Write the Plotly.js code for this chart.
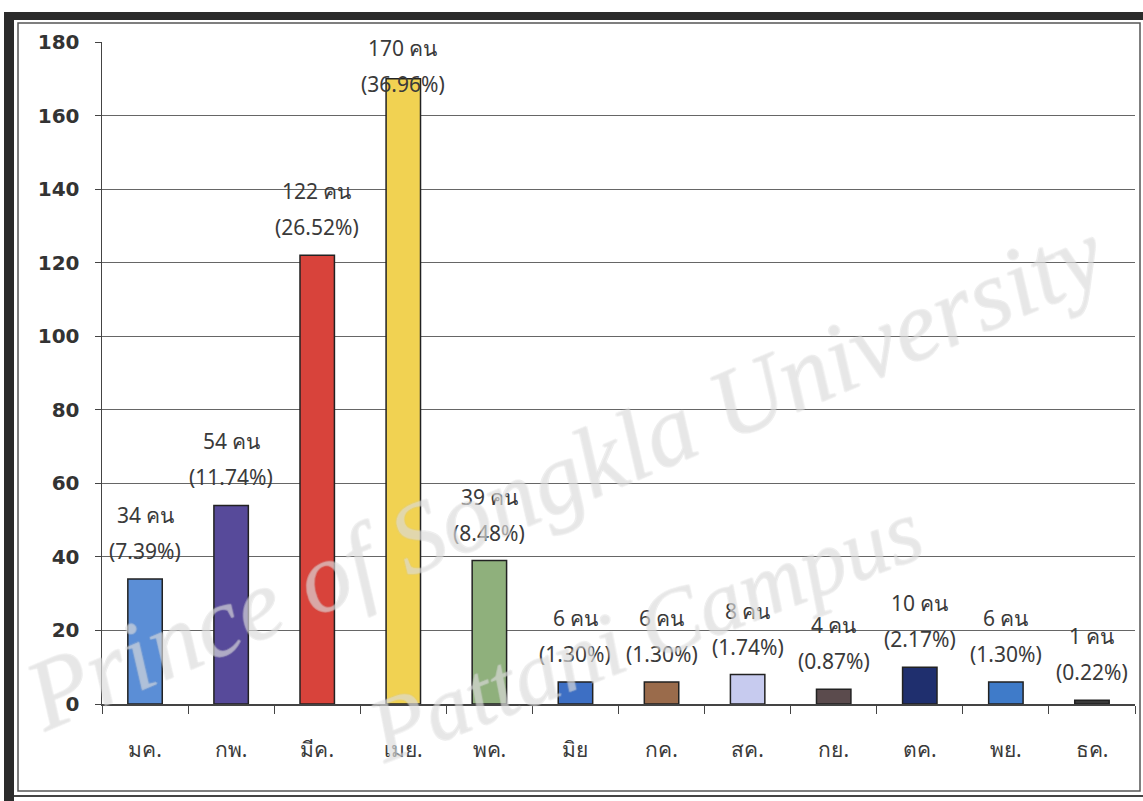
<!DOCTYPE html>
<html>
<head>
<meta charset="utf-8">
<script src="https://cdn.plot.ly/plotly-3.0.1.min.js"></script>
<style>
html,body{margin:0;padding:0;background:#fff;}
#chart{width:1143px;height:801px;}
</style>
</head>
<body>
<div id="chart"></div>
<script>
// ---- data ----
const months = ["มค.", "กพ.", "มีค.", "เมย.", "พค.", "มิย", "กค.", "สค.", "กย.", "ตค.", "พย.", "ธค."];
const counts = [34, 54, 122, 170, 39, 6, 6, 8, 4, 10, 6, 1];
const percents = ["7.39%", "11.74%", "26.52%", "36.96%", "8.48%", "1.30%", "1.30%", "1.74%", "0.87%", "2.17%", "1.30%", "0.22%"];
const barColors = ["#5b8ed6", "#574a9a", "#d8433b", "#f1d252", "#8fb07c", "#3d6fc4", "#9a6b4b", "#c7cbef", "#5b4b4d", "#1f2f6e", "#3f7bc9", "#3a3a3a"];
const yTicks = [0, 20, 40, 60, 80, 100, 120, 140, 160, 180];

// ---- layout helpers ----
const W = 1143, H = 801;
const M = {l: 102, r: 8, t: 42, b: 97};
const pw = W - M.l - M.r, ph = H - M.t - M.b;
const px = x => (x - M.l) / pw;
const py = y => (H - M.b - y) / ph;

const thaiFont = "Tahoma, 'Noto Sans', 'DejaVu Sans', sans-serif";
const labelCap = 161; // labels of bars reaching the top are kept inside the frame

const annotations = [];
months.forEach((m, i) => {
  const yv = Math.min(counts[i], labelCap);
  annotations.push({
    x: m, y: yv, xref: "x", yref: "y", text: counts[i] + " คน",
    showarrow: false, yanchor: "middle", yshift: 64,
    font: {family: thaiFont, size: 21, color: "#3a3a3a"}
  });
  annotations.push({
    x: m, y: yv, xref: "x", yref: "y", text: "(" + percents[i] + ")",
    showarrow: false, yanchor: "middle", yshift: 28,
    font: {family: thaiFont, size: 21, color: "#3a3a3a"}
  });
});

// watermark
const wmFont = {family: "'Liberation Serif', serif", size: 100, color: "rgba(255,255,255,0.2)", style: "italic",
  shadow: "1px 0 0 #cfcfcf, -1px 0 0 #cfcfcf, 0 1px 0 #cfcfcf, 0 -1px 0 #cfcfcf"};
annotations.push({x: px(565), y: py(475), xref: "paper", yref: "paper", text: "Prince of Songkla University",
  showarrow: false, textangle: -23, font: wmFont, xanchor: "center", yanchor: "middle"});
annotations.push({x: px(645), y: py(630), xref: "paper", yref: "paper", text: "Pattani Campus",
  showarrow: false, textangle: -21, font: Object.assign({}, wmFont, {size: 90}), xanchor: "center", yanchor: "middle"});

const shapes = [
  // outer dark frame
  {type: "rect", xref: "paper", yref: "paper", x0: px(4), x1: px(1143), y0: py(20), y1: py(12), fillcolor: "#2b2b2b", line: {width: 0}, layer: "below"},
  {type: "rect", xref: "paper", yref: "paper", x0: px(4), x1: px(14), y0: py(801), y1: py(12), fillcolor: "#2b2b2b", line: {width: 0}, layer: "below"},
  // inner thin frame
  {type: "rect", xref: "paper", yref: "paper", x0: px(18), x1: px(1140), y0: py(791), y1: py(23), line: {color: "#555", width: 1.5}, layer: "below"},
  {type: "line", xref: "paper", yref: "paper", x0: px(14), x1: px(1143), y0: py(796), y1: py(796), line: {color: "#444", width: 2}, layer: "below"}
];

const trace = {
  type: "bar", x: months, y: counts,
  marker: {color: barColors, line: {color: "#222", width: 1.5}},
  width: 0.4, hoverinfo: "x+y"
};

const layout = {
  width: W, height: H,
  margin: M,
  paper_bgcolor: "#fff", plot_bgcolor: "#fff",
  showlegend: false,
  xaxis: {
    type: "category", tickson: "boundaries", ticks: "outside", ticklen: 8, tickcolor: "#444", tickwidth: 1,
    showline: true, linecolor: "#444", linewidth: 1.5, showgrid: false,
    tickfont: {family: thaiFont, size: 21, color: "#3a3a3a"}, ticklabelstandoff: 26,
    range: [-0.5, 11.5]
  },
  yaxis: {
    range: [0, 180], tickvals: yTicks, ticks: "outside", ticklen: 6, tickcolor: "#444",
    showline: true, linecolor: "#444", linewidth: 1.5,
    showgrid: true, gridcolor: "#666", gridwidth: 1, zeroline: false,
    tickfont: {family: "Tahoma, 'DejaVu Sans', sans-serif", size: 20, color: "#333", weight: "bold"},
    ticklabelstandoff: 11
  },
  annotations: annotations,
  shapes: shapes
};

Plotly.newPlot("chart", [trace], layout, {displayModeBar: false, staticPlot: true});
</script>
</body>
</html>
